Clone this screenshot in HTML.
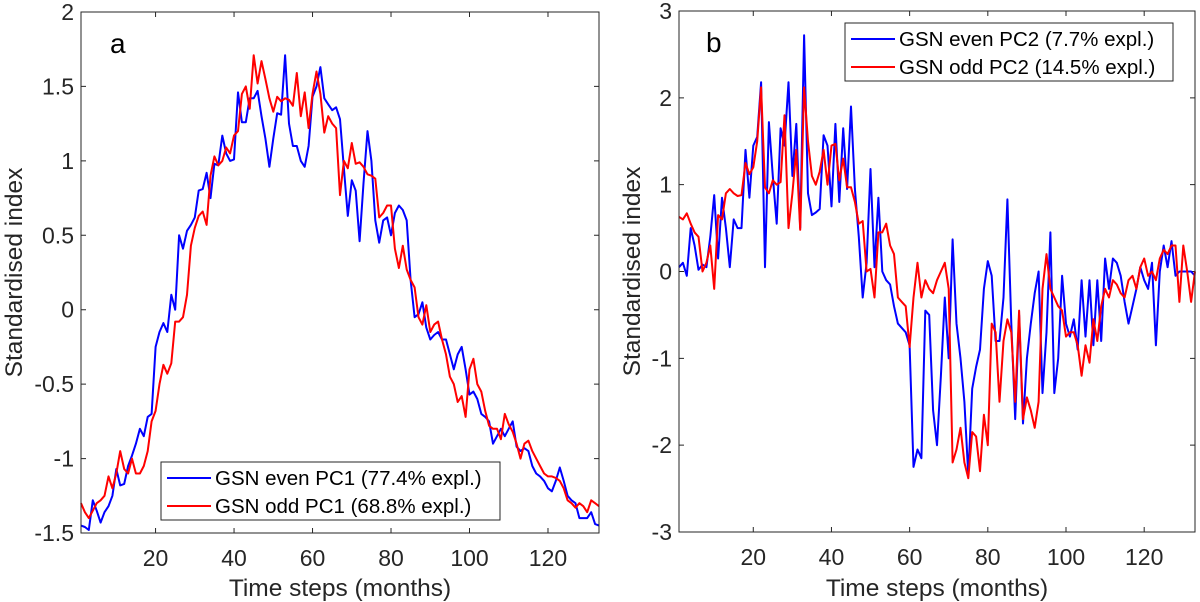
<!DOCTYPE html>
<html><head><meta charset="utf-8"><style>
body{margin:0;background:#fff;}
svg{display:block;font-family:"Liberation Sans",Arial,sans-serif;}
</style></head><body>
<svg id="fig" width="1200" height="602" viewBox="0 0 1200 602"></svg>
<script>
const months = Array.from({length:133},(_, i)=>i+1);
const xTicks = [20,40,60,80,100,120];
const yTicksA = [2,1.5,1,0.5,0,-0.5,-1,-1.5];
const yTickLabelsA = ["2","1.5","1","0.5","0","-0.5","-1","-1.5"];
const yTicksB = [3,2,1,0,-1,-2,-3];
const yTickLabelsB = ["3","2","1","0","-1","-2","-3"];
const evenPC1 = [-1.45,-1.46,-1.48,-1.28,-1.35,-1.43,-1.36,-1.32,-1.25,-1.07,-1.18,-1.17,-1.05,-0.98,-0.9,-0.8,-0.85,-0.72,-0.7,-0.25,-0.15,-0.09,-0.15,0.1,0.0,0.5,0.41,0.53,0.57,0.62,0.8,0.81,0.92,0.75,0.98,0.97,1.17,1.05,1.0,1.01,1.46,1.26,1.26,1.42,1.42,1.47,1.3,1.15,0.96,1.15,1.32,1.31,1.71,1.25,1.1,1.1,1.0,0.96,1.1,1.43,1.5,1.63,1.42,1.38,1.34,1.36,1.28,0.95,0.63,0.87,0.8,0.46,0.85,1.2,1.0,0.6,0.45,0.6,0.62,0.5,0.65,0.7,0.67,0.6,0.2,-0.05,-0.03,0.05,-0.12,-0.2,-0.17,-0.15,-0.2,-0.2,-0.3,-0.4,-0.3,-0.25,-0.4,-0.57,-0.55,-0.6,-0.7,-0.72,-0.75,-0.9,-0.85,-0.8,-0.85,-0.8,-0.75,-0.92,-0.95,-0.93,-0.95,-1.05,-1.1,-1.12,-1.15,-1.2,-1.22,-1.15,-1.06,-1.15,-1.25,-1.28,-1.3,-1.4,-1.4,-1.4,-1.36,-1.44,-1.45];
const oddPC1 = [-1.3,-1.36,-1.4,-1.35,-1.3,-1.28,-1.25,-1.12,-1.2,-1.1,-0.95,-1.07,-1.1,-1.0,-1.1,-1.1,-1.05,-0.95,-0.75,-0.68,-0.5,-0.37,-0.43,-0.36,-0.08,-0.08,-0.05,0.1,0.43,0.55,0.63,0.66,0.57,0.9,1.03,0.97,1.0,1.09,1.05,1.17,1.2,1.45,1.5,1.35,1.71,1.52,1.67,1.55,1.42,1.33,1.43,1.4,1.42,1.41,1.37,1.59,1.3,1.46,1.22,1.45,1.6,1.45,1.19,1.3,1.25,1.22,0.77,1.0,0.95,1.12,0.98,0.99,0.96,0.91,0.9,0.88,0.62,0.65,0.7,0.7,0.41,0.28,0.43,0.27,0.2,0.15,-0.05,-0.1,0.03,-0.15,-0.1,-0.08,-0.2,-0.3,-0.45,-0.5,-0.62,-0.58,-0.72,-0.4,-0.33,-0.5,-0.55,-0.68,-0.78,-0.8,-0.8,-0.87,-0.7,-0.77,-0.82,-0.9,-1.0,-0.9,-0.88,-0.95,-1.0,-1.05,-1.1,-1.12,-1.12,-1.13,-1.15,-1.2,-1.28,-1.3,-1.33,-1.3,-1.32,-1.36,-1.28,-1.3,-1.32];
const evenPC2 = [0.05,0.1,-0.05,0.5,0.3,0.02,0.08,0.05,0.4,0.88,0.15,0.85,0.5,0.05,0.6,0.5,0.5,1.4,0.85,1.45,1.55,2.18,0.05,1.72,1.1,0.55,1.65,1.45,2.18,1.1,1.7,0.5,2.72,0.9,0.65,0.68,0.72,1.57,1.45,0.75,1.7,0.8,1.65,0.95,1.9,0.95,0.4,-0.3,0.1,1.18,0.05,0.85,0.0,-0.1,-0.15,-0.4,-0.6,-0.65,-0.7,-0.85,-2.25,-2.05,-2.15,-0.45,-0.5,-1.6,-2.0,-1.2,-0.3,-1.0,0.37,-0.6,-1.0,-1.5,-2.35,-1.35,-1.1,-0.9,-0.2,0.12,-0.05,-0.8,-0.8,-0.3,0.83,-0.6,-1.7,-0.5,-1.75,-1.0,-0.6,-0.25,0.0,-1.4,-0.7,0.45,-1.4,-1.0,-0.05,-0.6,-0.75,-0.55,-0.9,-0.1,-0.75,-0.1,-0.85,-0.1,-0.8,0.15,-0.2,0.15,0.1,-0.05,-0.35,-0.6,-0.4,-0.2,0.05,-0.1,-0.2,0.1,-0.85,0.0,0.3,0.05,0.35,-0.05,0.0,0.0,0.0,0.0,-0.05];
const oddPC2 = [0.63,0.6,0.67,0.55,0.45,0.4,0.0,0.1,0.3,-0.2,0.65,0.6,0.9,0.95,0.9,0.87,0.88,1.25,1.12,1.2,1.5,2.12,0.97,0.9,1.05,1.0,1.03,1.8,0.5,0.9,1.4,0.48,2.12,1.5,1.1,1.0,1.15,1.4,1.0,1.45,1.47,1.05,1.3,0.97,0.97,0.8,0.55,0.58,0.0,0.03,-0.3,0.45,0.45,0.55,0.3,0.2,-0.3,-0.35,-0.4,-0.87,-0.3,0.1,-0.3,-0.1,-0.2,-0.25,-0.1,0.0,0.1,-0.2,-2.2,-2.05,-1.8,-2.2,-2.38,-1.85,-1.9,-2.3,-1.65,-2.0,-0.6,-0.7,-1.5,-0.8,-0.55,-0.7,-1.5,-0.45,-1.7,-1.45,-1.6,-1.8,-1.5,-0.2,0.2,-0.2,-0.3,-0.4,-0.45,-0.75,-0.7,-0.7,-0.85,-1.2,-0.85,-1.05,-0.55,-0.8,-0.4,-0.2,-0.3,-0.1,-0.15,-0.25,-0.3,-0.1,-0.05,-0.2,0.05,0.15,-0.05,0.0,-0.1,0.15,0.25,0.2,0.3,0.3,-0.35,0.3,0.0,-0.35,0.0];

const NS="http://www.w3.org/2000/svg";
const svg=document.getElementById('fig');
function el(tag,attrs,parent){const e=document.createElementNS(NS,tag);for(const k in attrs)e.setAttribute(k,attrs[k]);(parent||svg).appendChild(e);return e;}

function panel(cfg){
  const g=el('g',{});
  
  
  const {L,R,T,B,ymin,ymax}=cfg;
  const xs=m=>L+(m-1)/(133-1)*(R-L);
  const ys=v=>B-(v-ymin)/(ymax-ymin)*(B-T);
  xTicks.forEach(t=>{
    const x=xs(t);
    const tk=el('path',{d:`M${x},${B}V${B-5}M${x},${T}V${T+5}`,stroke:'#262626','stroke-width':1},g);
    
    
    const lb=el('text',{x:x,y:B+33,'text-anchor':'middle','font-size':23,fill:'#262626'},g);
    lb.textContent=t;
    
    
  });
  cfg.yt.forEach((t,i)=>{
    const y=ys(t);
    const tk=el('path',{d:`M${L},${y}H${L+5}M${R},${y}H${R-5}`,stroke:'#262626','stroke-width':1},g);
    
    
    const lb=el('text',{x:L-7,y:y+8,'text-anchor':'end','font-size':23,fill:'#262626'},g);
    lb.textContent=cfg.ytl[i];
    
    
  });
  cfg.series.forEach(s=>{
    const d=months.map((m,i)=>(i?'L':'M')+xs(m).toFixed(1)+','+ys(s.v[i]).toFixed(1)).join('');
    const p=el('path',{d:d,fill:'none',stroke:s.c,'stroke-width':2,'stroke-linejoin':'round'},g);
    
    
  });
  const box=el('rect',{x:L,y:T,width:R-L,height:B-T,fill:'none',stroke:'#262626','stroke-width':1},g);
  
  
  const pl=el('text',{x:cfg.lx,y:T+41,'font-size':28,fill:'#000'},g);
  pl.textContent=cfg.label;
  
  
  const xt=el('text',{x:(L+R)/2,y:596,'text-anchor':'middle','font-size':24.5,fill:'#262626'},g);
  xt.textContent='Time steps (months)';
  
  
  const yt=el('text',{x:0,y:0,'text-anchor':'middle','font-size':24.5,fill:'#262626',transform:`translate(${cfg.ytx},${(T+B)/2}) rotate(-90)`},g);
  yt.textContent='Standardised index';
  
  
  const lg=el('g',{},g);
  
  
  const lgb=cfg.leg;
  el('rect',{x:lgb.x,y:lgb.y,width:lgb.w,height:lgb.h,fill:'#fff',stroke:'#262626','stroke-width':1},lg);
  cfg.series.forEach((s,i)=>{
    const yy=lgb.y+16+i*28;
    const ln=el('line',{x1:lgb.x+6,x2:lgb.x+50,y1:yy,y2:yy,stroke:s.c,'stroke-width':2},lg);
    
    
    const tx=el('text',{x:lgb.x+54,y:yy+7,'font-size':20.5,fill:'#000'},lg);
    tx.textContent=s.label;
    
    
  });
}
panel({name:'panel-a',L:81,R:599,T:12,B:533,ymin:-1.5,ymax:2,yt:yTicksA,ytl:yTickLabelsA,label:'a',lx:110,ytx:22,
  leg:{x:161,y:462,w:339,h:58},
  series:[{n:'even-pc1-line',c:'#0000ff',v:evenPC1,label:'GSN even PC1 (77.4% expl.)'},{n:'odd-pc1-line',c:'#ff0000',v:oddPC1,label:'GSN odd PC1 (68.8% expl.)'}]});
panel({name:'panel-b',L:679,R:1195,T:11,B:532,ymin:-3,ymax:3,yt:yTicksB,ytl:yTickLabelsB,label:'b',lx:706,ytx:640,
  leg:{x:845,y:23,w:328,h:58},
  series:[{n:'even-pc2-line',c:'#0000ff',v:evenPC2,label:'GSN even PC2 (7.7% expl.)'},{n:'odd-pc2-line',c:'#ff0000',v:oddPC2,label:'GSN odd PC2 (14.5% expl.)'}]});
</script>
</body></html>
